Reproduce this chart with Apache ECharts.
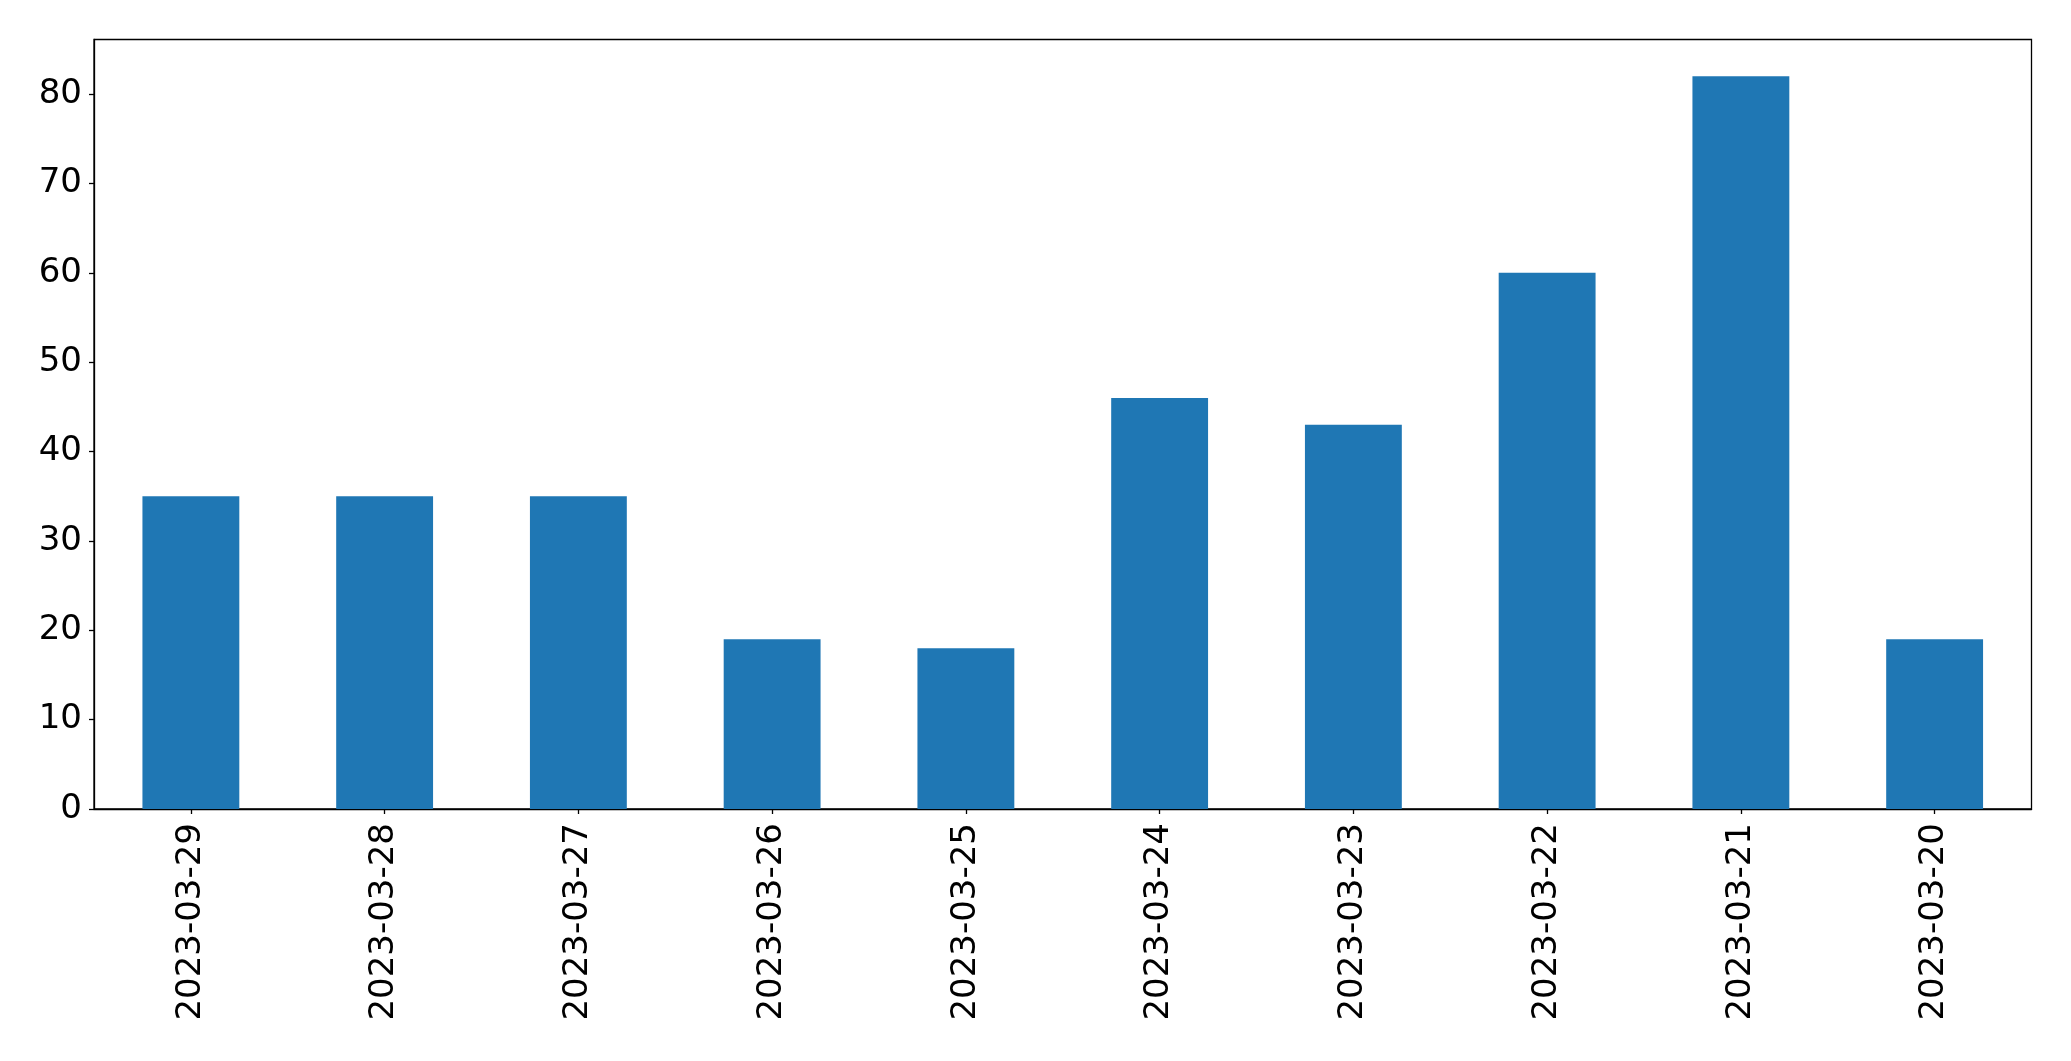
<!DOCTYPE html>
<html><head><meta charset="utf-8">
<script src="https://cdn.jsdelivr.net/npm/echarts@6/dist/echarts.min.js"></script>
<style>html,body{margin:0;padding:0;background:#fff}#c{width:2071px;height:1061px}</style>
</head><body><div id="c"></div>
<script>
const categories = ["2023-03-29","2023-03-28","2023-03-27","2023-03-26","2023-03-25","2023-03-24","2023-03-23","2023-03-22","2023-03-21","2023-03-20"];
const values = [35,35,35,19,18,46,43,60,82,19];
const yTicks = [0,10,20,30,40,50,60,70,80];

const chart = echarts.init(document.getElementById('c'), null, {renderer:'canvas'});
const font = "'DejaVu Sans', sans-serif";
chart.setOption({
  animation:false,
  backgroundColor:'#fff',
  grid:{left:94,right:39.5,top:39.5,bottom:252,show:true,borderColor:'#000',borderWidth:1.3,backgroundColor:'transparent'},
  xAxis:{type:'category',data:categories,boundaryGap:true,
    axisLine:{show:true,lineStyle:{color:'#000',width:1.3}},
    axisTick:{show:true,alignWithLabel:true,length:5,lineStyle:{color:'#000',width:1.3}},
    axisLabel:{rotate:90,margin:14,fontFamily:font,fontSize:34,color:'#000',interval:0},
    splitLine:{show:false}},
  yAxis:{type:'value',min:0,max:86.1,
    axisLine:{show:true,lineStyle:{color:'#000',width:1.3}},
    axisTick:{show:true,length:5,customValues:yTicks,lineStyle:{color:'#000',width:1.3}},
    axisLabel:{margin:12,fontFamily:font,fontSize:34,color:'#000',customValues:yTicks},
    splitLine:{show:false}},
  series:[{type:'bar',data:values,barWidth:'50%',itemStyle:{color:'#1f77b4'}}]
});
</script></body></html>
